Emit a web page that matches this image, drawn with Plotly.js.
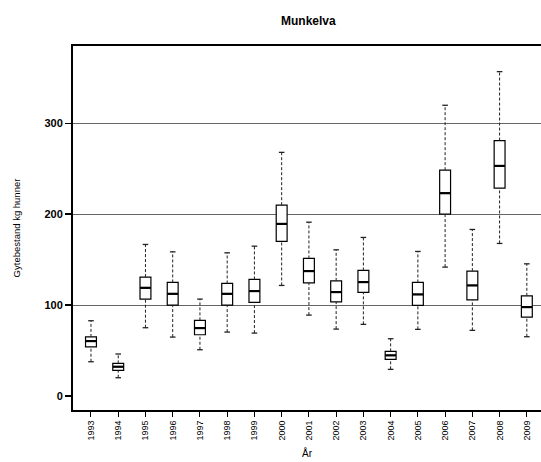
<!DOCTYPE html>
<html>
<head>
<meta charset="utf-8">
<script src="https://cdn.plot.ly/plotly-3.0.1.min.js"></script>
<style>html,body{margin:0;padding:0;background:#fff;}#chart{width:541px;height:462px;}</style>
</head>
<body>
<div id="chart"></div>
<script>
var years = ["1993","1994","1995","1996","1997","1998","1999","2000","2001","2002","2003","2004","2005","2006","2007","2008","2009"];
var lowerWhisker = [37.7, 20.1, 75.1, 64.8, 50.9, 70.3, 69.2, 121.6, 89.0, 73.6, 78.8, 29.3, 73.3, 141.8, 72.2, 167.8, 65.2];
var q1Values     = [54.0, 28.2, 106.6, 100.0, 67.4, 100.0, 103.0, 170.0, 124.5, 103.6, 114.0, 40.3, 99.6, 200.0, 105.8, 228.6, 86.8];
var medianValues = [60.4, 32.2, 119.0, 112.4, 74.7, 112.4, 115.4, 189.3, 137.4, 114.3, 125.3, 44.7, 111.7, 223.1, 121.6, 253.1, 97.8];
var q3Values     = [65.0, 35.9, 130.8, 124.9, 83.2, 123.8, 128.2, 209.9, 151.3, 126.7, 138.1, 49.1, 124.9, 248.4, 137.4, 281.0, 110.2];
var upperWhisker = [82.8, 46.2, 166.7, 158.6, 106.6, 157.5, 164.8, 268.0, 191.2, 160.8, 174.4, 63.0, 159.0, 319.8, 183.2, 356.8, 145.4];
var yTicks = [0, 100, 200, 300];

var wx = [], wy = [];
for (var i = 0; i < years.length; i++) {
  wx.push(years[i], years[i], null, years[i], years[i], null);
  wy.push(lowerWhisker[i], q1Values[i], null, q3Values[i], upperWhisker[i], null);
}

var traces = [
  {type: 'scatter', mode: 'lines', x: wx, y: wy, connectgaps: false,
   line: {color: '#222', width: 1, dash: '3px,2px'}, hoverinfo: 'skip', showlegend: false},
  {type: 'box', x: years, q1: q1Values, median: medianValues, q3: q3Values,
   lowerfence: q1Values, upperfence: q3Values, width: 0.4, whiskerwidth: 0,
   fillcolor: '#ffffff', line: {color: '#000', width: 1.2}, boxpoints: false, showlegend: false},
  {type: 'scatter', mode: 'markers', x: years, y: medianValues,
   marker: {symbol: 'line-ew', size: 7.5, line: {width: 2.2, color: '#000'}}, hoverinfo: 'skip', showlegend: false},
  {type: 'scatter', mode: 'markers', x: years.concat(years), y: lowerWhisker.concat(upperWhisker),
   marker: {symbol: 'line-ew', size: 4, line: {width: 1.3, color: '#222'}}, hoverinfo: 'skip', showlegend: false}
];

var layout = {
  width: 541, height: 462,
  margin: {l: 73, r: 0, t: 46, b: 52},
  paper_bgcolor: '#fff', plot_bgcolor: '#fff',
  font: {family: 'Liberation Sans, Arial, sans-serif', color: '#000'},
  showlegend: false,
  title: {text: 'Munkelva', font: {size: 12, weight: 'bold', color: '#000'}, x: 0.57, xanchor: 'center', y: 0.955, yanchor: 'middle'},
  xaxis: {
    type: 'category', range: [-0.66, 16.52], categoryorder: 'array', categoryarray: years,
    showline: true, linecolor: '#000', linewidth: 2, mirror: true,
    ticks: 'outside', ticklen: 5, tickwidth: 1, tickcolor: '#000',
    tickangle: -90, tickfont: {size: 9}, showgrid: false, zeroline: false,
    title: {text: 'År', font: {size: 10}, standoff: 10}
  },
  yaxis: {
    range: [-15.4, 385], tickvals: yTicks, ticktext: yTicks.map(String),
    showline: true, linecolor: '#000', linewidth: 2, mirror: false,
    ticks: 'outside', ticklen: 6, tickwidth: 1.5, tickcolor: '#000',
    tickfont: {size: 11, weight: 'bold'},
    showgrid: true, gridcolor: '#666', gridwidth: 1,
    zeroline: true, zerolinecolor: '#ffffff', zerolinewidth: 2,
    title: {text: 'Gytebestand kg hunner', font: {size: 9.5}, standoff: 22}
  }
};

Plotly.newPlot('chart', traces, layout, {staticPlot: true, displayModeBar: false});
</script>
</body>
</html>
